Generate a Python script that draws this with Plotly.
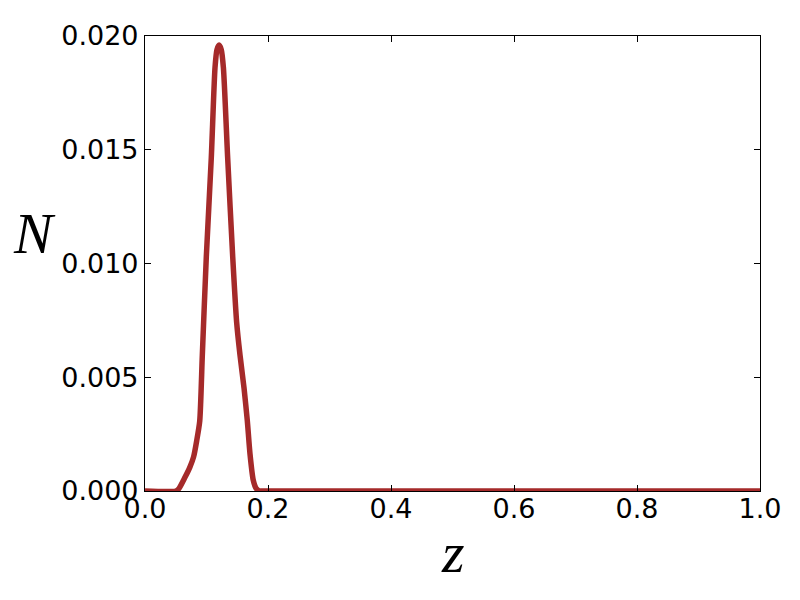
import plotly.graph_objects as go

# redshift distribution
z = [0.0, 0.05, 0.055, 0.065, 0.073, 0.079, 0.084, 0.089, 0.0932, 0.0997, 0.1078, 0.1138,
     0.117, 0.1205, 0.124, 0.1275, 0.1344, 0.1426, 0.149, 0.1545, 0.161, 0.1664, 0.1707,
     0.176, 0.181, 0.186, 0.19, 1.0]
N = [0.0, 0.0, 0.0001, 0.0006, 0.00105, 0.0015, 0.0022, 0.00308, 0.00597, 0.0103, 0.01465,
     0.0186, 0.0194, 0.0196, 0.0194, 0.0186, 0.01465, 0.0103, 0.00742, 0.00597, 0.00453,
     0.00308, 0.00164, 0.00048, 0.0001, 0.0, 0.0, 0.0]

xticks = [0.0, 0.2, 0.4, 0.6, 0.8, 1.0]
yticks = [0.000, 0.005, 0.010, 0.015, 0.020]

fig = go.Figure()
fig.add_trace(go.Scatter(x=z, y=N, mode='lines',
                         line=dict(color='#A52A2A', width=5.5, shape='spline', smoothing=0.6)))

axis_style = dict(showline=True, linecolor='black', linewidth=1.2, mirror='ticks',
                  ticks='inside', ticklen=6, tickcolor='black', showgrid=False, zeroline=False,
                  tickfont=dict(family='DejaVu Sans', size=27, color='black'))

fig.update_xaxes(range=[0, 1], tickvals=xticks, ticktext=['%.1f' % v for v in xticks],
                 ticklabelstandoff=-7, **axis_style)
fig.update_yaxes(range=[0, 0.02], tickvals=yticks, ticktext=['%.3f' % v for v in yticks], **axis_style)

# math-style axis labels
fig.add_annotation(text='<i>N</i>', xref='paper', yref='paper', x=-0.179, y=0.566,
                   xanchor='center', yanchor='middle', showarrow=False,
                   font=dict(family='Liberation Serif', size=58, color='black'))
fig.add_annotation(text='<i>z</i>', xref='paper', yref='paper', x=0.501, y=-0.135,
                   xanchor='center', yanchor='middle', showarrow=False,
                   font=dict(family='Liberation Serif', size=58, color='black'))

fig.update_layout(width=800, height=600, showlegend=False,
                  plot_bgcolor='white', paper_bgcolor='white',
                  margin=dict(l=137, r=48, t=22, b=117))
fig.write_html("out.html")
